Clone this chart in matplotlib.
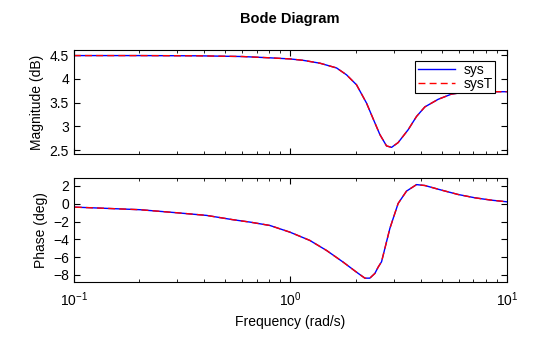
import matplotlib
matplotlib.use('Agg')
import matplotlib.pyplot as plt

plt.rcParams['font.family'] = ['Liberation Sans', 'DejaVu Sans']
plt.rcParams['mathtext.default'] = 'regular'
plt.rcParams['font.size'] = 10

# datos
w_mag = [0.1, 0.2, 0.38, 0.6, 0.804, 0.995, 1.146, 1.369, 1.635, 1.818, 2.022, 2.249,
         2.413, 2.591, 2.782, 2.935, 3.147, 3.501, 3.828, 4.181, 4.816, 5.554, 6.397,
         7.5, 10.0]
mag_sys = [4.49, 4.49, 4.485, 4.47, 4.443, 4.42, 4.39, 4.33, 4.23, 4.085, 3.875, 3.49,
           3.16, 2.83, 2.59, 2.56, 2.66, 2.93, 3.21, 3.41, 3.57, 3.68, 3.72, 3.73, 3.73]
mag_sysT = mag_sys

w_fase = [0.101, 0.132, 0.202, 0.298, 0.410, 0.545, 0.650, 0.804, 0.995, 1.230, 1.470,
          1.754, 2.022, 2.209, 2.329, 2.457, 2.545, 2.638, 2.882, 3.147, 3.441, 3.828,
          4.181, 4.993, 5.959, 7.115, 8.50, 10.0]
fase_sys = [-0.38, -0.49, -0.67, -1.01, -1.31, -1.80, -2.06, -2.44, -3.19, -4.12, -5.25,
            -6.56, -7.69, -8.36, -8.36, -7.83, -7.12, -6.52, -2.78, 0.03, 1.42, 2.15,
            2.05, 1.53, 1.04, 0.67, 0.40, 0.22]
fase_sysT = fase_sys

fig = plt.figure(figsize=(5.6, 3.37), dpi=100)
ax1 = fig.add_axes([0.132, 0.543, 0.773, 0.309])
ax2 = fig.add_axes([0.132, 0.163, 0.773, 0.309])

ax1.plot(w_mag, mag_sys, color='blue', lw=1, label='sys')
ax1.plot(w_mag, mag_sysT, color='red', lw=1, ls=(0, (5, 3)), label='sysT')
ax2.plot(w_fase, fase_sys, color='blue', lw=1)
ax2.plot(w_fase, fase_sysT, color='red', lw=1, ls=(0, (5, 3)))

for ax in (ax1, ax2):
    ax.set_xscale('log')
    ax.set_xlim(0.1, 10)
    ax.tick_params(which='both', direction='in', top=True, right=True, labelsize=10)
    ax.tick_params(which='major', length=4)
    ax.tick_params(which='minor', length=2.5)

ax1.set_ylim(2.42, 4.61)
ax1.set_yticks([2.5, 3, 3.5, 4, 4.5])
ax1.set_yticklabels(['2.5', '3', '3.5', '4', '4.5'])
ax1.tick_params(labelbottom=False)
ax1.set_ylabel('Magnitude (dB)')

ax2.set_ylim(-8.8, 2.9)
ax2.set_yticks([-8, -6, -4, -2, 0, 2])
ax2.set_ylabel('Phase (deg)')
ax2.set_xlabel('Frequency (rad/s)')
ax2.tick_params(axis='x', pad=6)

leg = ax1.legend(loc='upper right', bbox_to_anchor=(0.972, 0.894), fancybox=False,
                 edgecolor='black', framealpha=1, fontsize=10, handlelength=2.7,
                 handletextpad=0.6, borderpad=0.15, labelspacing=0.0, borderaxespad=0)
leg.get_frame().set_linewidth(0.8)

fig.text(0.518, 0.945, 'Bode Diagram', ha='center', va='center', fontsize=10.5, fontweight='bold')

fig.savefig('out.png', dpi=100)
